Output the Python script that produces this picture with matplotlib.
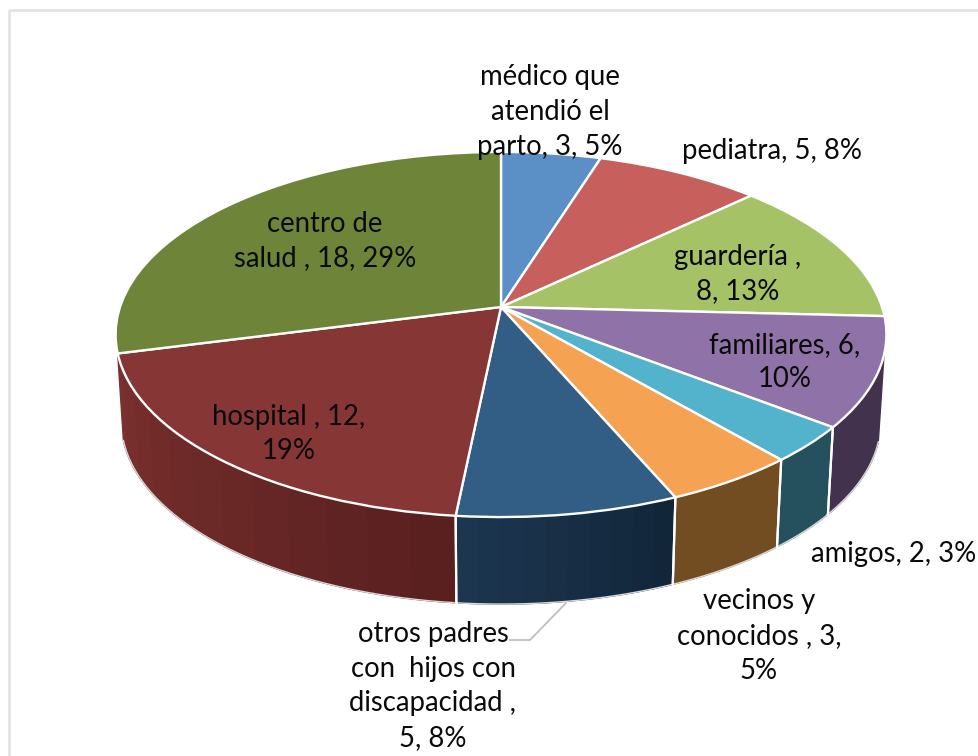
import numpy as np
import matplotlib
matplotlib.use("Agg")
import matplotlib.pyplot as plt
from matplotlib.transforms import Transform
from matplotlib.patches import Rectangle
from matplotlib.colors import to_rgb

plt.rcParams['font.family'] = ['Lato', 'DejaVu Sans']

categories = ["médico que atendió el parto", "pediatra", "guardería", "familiares", "amigos",
              "vecinos y conocidos", "otros padres con hijos con discapacidad", "hospital", "centro de salud"]
values = [3, 5, 8, 6, 2, 3, 5, 12, 18]
labels = ["médico que\natendió el\nparto, 3, 5%", "pediatra, 5, 8%", "guardería ,\n8, 13%",
          "familiares, 6,\n10%", "amigos, 2, 3%", "vecinos y\nconocidos , 3,\n5%",
          "otros padres\ncon  hijos con\ndiscapacidad ,\n5, 8%", "hospital , 12,\n19%",
          "centro de\nsalud , 18, 29%"]
label_xy = [(550, 112), (772, 151), (738, 274), (785, 362), (894, 554), (759, 636),
            (433, 686), (289, 434), (325, 241)]
top_colors = ["#5B90C6", "#C75F5C", "#A6C267", "#8F73A8", "#53B2CC", "#F5A352", "#325E85", "#863634", "#6E8539"]
wall_left = {3: "#43324D", 4: "#25505E", 5: "#724D22", 6: "#1C3650", 7: "#7A302E"}
wall_right = {3: "#43324D", 4: "#25505E", 5: "#724D22", 6: "#12263A", 7: "#5A2020"}
wall_bands = {3: 1, 4: 1, 5: 1, 6: 10, 7: 12}

CX, CY, RX, A, C = 501.0, 307.0, 381.0, 178.4, 0.1507
DEPTH, SHRINK = 87.0, 0.985
HIDDEN_WALL_DEG = 12.0   # the right end of the wall is hidden behind the rim


class Persp(Transform):
    input_dims = output_dims = 2

    def transform_non_affine(self, xy):
        xy = np.asarray(xy, float)
        d = 1 + C * xy[:, 1]
        return np.column_stack([CX + RX * xy[:, 0] / d, CY - A * xy[:, 1] / d])


persp = Persp()

fig = plt.figure(figsize=(9.79, 7.56), dpi=100, facecolor="white")
ax = fig.add_axes([0, 0, 1, 1])
wedges, _ = ax.pie(values, startangle=90, counterclock=False, colors=top_colors, radius=1,
                   wedgeprops=dict(edgecolor="white", linewidth=1.7, joinstyle="round"))
ax.set_aspect("auto")
ax.set_xlim(0, 979)
ax.set_ylim(756, 0)
ax.axis("off")

for w in wedges:
    w.set_transform(persp + ax.transData)
    w.set_zorder(5)


def top_edge(t):
    t = np.radians(t)
    return persp.transform(np.column_stack([np.cos(t), np.sin(t)]))


def bottom_edge(t):
    p = top_edge(t)
    return np.column_stack([CX + SHRINK * (p[:, 0] - CX), p[:, 1] + DEPTH])


for i in wall_bands:
    w = wedges[i]
    n = wall_bands[i]
    t1, t2 = w.theta1, w.theta2
    if i == 3:
        t2 -= HIDDEN_WALL_DEG
    edges = np.linspace(t1, t2, n + 1)
    c0, c1 = np.array(to_rgb(wall_right[i])), np.array(to_rgb(wall_left[i]))
    for k in range(n):
        ts = np.linspace(edges[k], edges[k + 1], 24)
        poly = np.vstack([top_edge(ts), bottom_edge(ts[::-1])])
        col = c1 + (c0 - c1) * (k / max(n - 1, 1)) if n > 1 else c0
        ax.fill(poly[:, 0], poly[:, 1], color=col, lw=1.0, zorder=2)
    ts = np.linspace(t1, t2, 40)
    b = bottom_edge(ts)
    ax.plot(b[:, 0], b[:, 1], color="#D9D9D9", lw=1.0, zorder=3)
    for th in (w.theta1, w.theta2):
        if th != wedges[7].theta1 and th != wedges[3].theta2:
            a0, b0 = top_edge(np.array([th])), bottom_edge(np.array([th]))
            ax.plot([a0[0, 0], b0[0, 0]], [a0[0, 1], b0[0, 1]], color="white", lw=1.6, zorder=4)

# leader line for "otros padres"
ax.plot([510, 530, 566], [640, 640, 603], color="#BFBFBF", lw=1.3, zorder=4)

for txt, (x, y) in zip(labels, label_xy):
    ax.text(x, y, txt, ha="center", va="center", fontsize=19.8, color="#0A0A0A",
            linespacing=1.42, zorder=6)

ax.add_patch(Rectangle((9, 10), 1000, 800, fill=False, ec="#E3E3E3", lw=2, zorder=1))

fig.savefig("out.png", dpi=100)
